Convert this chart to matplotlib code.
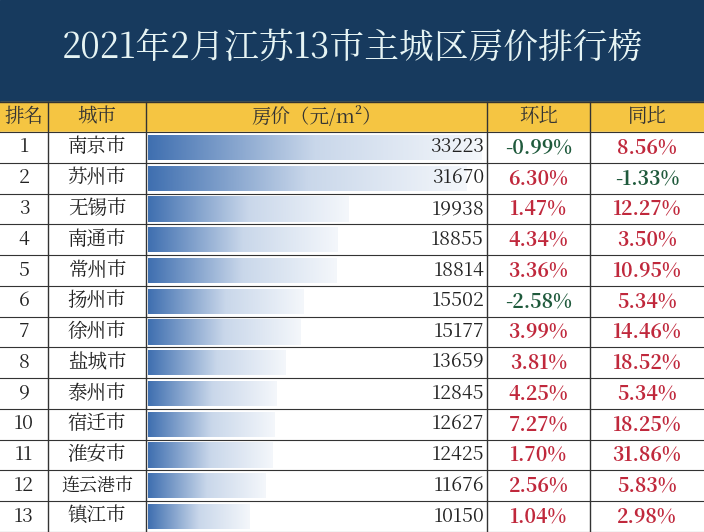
import numpy as np
import matplotlib
matplotlib.use('Agg')
import matplotlib.pyplot as plt
from matplotlib import font_manager
from matplotlib.patches import Rectangle
from matplotlib.colors import LinearSegmentedColormap

cjk = [f.name for f in font_manager.fontManager.ttflist if 'CJK' in f.name]
cjk_name = 'Noto Sans CJK SC' if 'Noto Sans CJK SC' in cjk else (cjk[0] if cjk else 'DejaVu Sans')
plt.rcParams['font.family'] = [cjk_name, 'DejaVu Sans']

TITLE = '2021年2月江苏13市主城区房价排行榜'
HEADERS = ['排名', '城市', '房价（元/m²）', '环比', '同比']
ranks = list(range(1, 14))
cities = ['南京市', '苏州市', '无锡市', '南通市', '常州市', '扬州市', '徐州市',
          '盐城市', '泰州市', '宿迁市', '淮安市', '连云港市', '镇江市']
prices = [33223, 31670, 19938, 18855, 18814, 15502, 15177, 13659, 12845, 12627, 12425, 11676, 10150]
mom = [-0.99, 6.30, 1.47, 4.34, 3.36, -2.58, 3.99, 3.81, 4.25, 7.27, 1.70, 2.56, 1.04]
yoy = [8.56, -1.33, 12.27, 3.50, 10.95, 5.34, 14.46, 18.52, 5.34, 18.25, 31.86, 5.83, 2.98]

W, H = 704, 532
col_x = [0, 48, 146, 487, 590, 704]
head_y0, head_y1 = 102, 132
row_h = (H - head_y1) / len(cities)
NAVY = '#173a5e'
RED = '#c0283c'
GREEN = '#1f5a3c'

fig = plt.figure(figsize=(W / 100, H / 100), dpi=100)
ax = fig.add_axes([0, 0, 1, 1])
ax.set_xlim(0, W)
ax.set_ylim(H, 0)
ax.axis('off')


def txt(x, y, s, **kw):
    # figure-level text so it sits above the bar axes
    fig.text(x, y, s, transform=ax.transData, zorder=5, **kw)


ax.add_patch(Rectangle((0, 0), W, head_y0, color=NAVY))
txt(W / 2, 48, TITLE, ha='center', va='center', fontsize=25, color='#e6f4f4')
ax.add_patch(Rectangle((0, head_y0), W, head_y1 - head_y0, color='#f5c542'))
ax.add_patch(Rectangle((0, head_y1), W, H - head_y1, color='white'))
for i, h in enumerate(HEADERS):
    txt((col_x[i] + col_x[i + 1]) / 2, (head_y0 + head_y1) / 2, h,
        ha='center', va='center', fontsize=14, color='#333333')

for x in col_x[1:-1]:
    ax.plot([x, x], [head_y0, H], color='#333333', lw=1)
for k in range(len(cities) + 1):
    y = head_y1 + k * row_h
    ax.plot([0, W], [y, y], color='#333333', lw=0.8)
ax.plot([0, W], [head_y0, head_y0], color='#333333', lw=1)

# bar column as its own axes
bx0, bx1 = col_x[2] + 2, col_x[3] - 2
bax = fig.add_axes([bx0 / W, 0, (bx1 - bx0) / W, 1 - head_y1 / H])
bars = bax.barh(range(len(prices)), prices, height=0.82, color='none')
grad = np.linspace(0, 1, 256).reshape(1, -1)
cmap = LinearSegmentedColormap.from_list('g', ['#3f6fb0', '#c9d7ea', '#f4f7fb'])
for b in bars:
    x0, y0 = b.get_x(), b.get_y()
    im = bax.imshow(grad, cmap=cmap, aspect='auto',
                    extent=[x0, x0 + b.get_width(), y0 + b.get_height(), y0])
    im.set_clip_path(b)
bax.set_xlim(0, max(prices) / 0.99)
bax.set_ylim(len(cities) - 0.5, -0.5)
bax.axis('off')

for i in range(len(cities)):
    yc = head_y1 + (i + 0.5) * row_h
    txt((col_x[0] + col_x[1]) / 2, yc, str(ranks[i]), ha='center', va='center', fontsize=14, color='#222222')
    txt((col_x[1] + col_x[2]) / 2, yc, cities[i], ha='center', va='center',
        fontsize=14 if len(cities[i]) < 4 else 13, color='#222222')
    txt(col_x[3] - 3, yc, str(prices[i]), ha='right', va='center', fontsize=14, color='#222222')
    for v, c in ((mom[i], 3), (yoy[i], 4)):
        txt((col_x[c] + col_x[c + 1]) / 2, yc, f'{v:.2f}%', ha='center', va='center',
            fontsize=14, fontweight='bold', color=RED if v >= 0 else GREEN)

fig.savefig('out.png', dpi=100)
